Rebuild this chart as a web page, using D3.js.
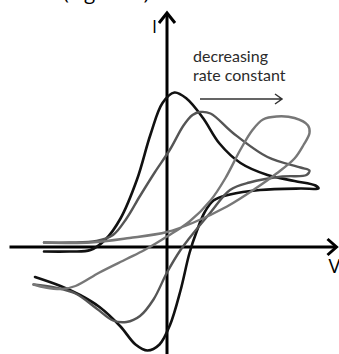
<!DOCTYPE html>
<meta charset="utf-8">
<style>
body { margin: 0; background: #fff; }
svg { display: block; }
.curve { fill: none; stroke-linecap: round; stroke-linejoin: round; }
text { font-family: "Open Sans", sans-serif; }
.note text { font-family: Lato, "Open Sans", sans-serif; }
</style>
<svg width="339" height="354"></svg>
<script src="https://cdn.jsdelivr.net/npm/d3@7"></script>
<script>

// fast electron transfer (black)
var vBlack = [-0.82, -0.65, -0.51, -0.41, -0.31, -0.20, -0.11, -0.03, 0.05, 0.13, 0.24, 0.35, 0.49, 0.67, 0.85, 0.99, 1.01,
              0.89, 0.62, 0.42, 0.31, 0.25, 0.20, 0.15, 0.09, 0.02, -0.05, -0.13, -0.21, -0.31, -0.45, -0.58, -0.71, -0.88];
var iBlack = [-0.03, -0.03, -0.02, 0.05, 0.19, 0.45, 0.75, 0.96, 1.03, 0.99, 0.86, 0.69, 0.56, 0.48, 0.44, 0.41, 0.39,
              0.39, 0.38, 0.35, 0.31, 0.23, 0.11, -0.04, -0.29, -0.52, -0.65, -0.69, -0.65, -0.53, -0.40, -0.32, -0.26, -0.20];

// intermediate (dark gray)
var vMid = [-0.82, -0.65, -0.47, -0.36, -0.27, -0.18, -0.08, 0.02, 0.11, 0.17, 0.22, 0.29, 0.44, 0.67, 0.89, 0.95, 0.93,
            0.77, 0.55, 0.42, 0.29, 0.15, 0.09, 0.00, -0.09, -0.18, -0.27, -0.36, -0.47, -0.61, -0.75, -0.89];
var iMid = [0.03, 0.03, 0.04, 0.08, 0.19, 0.34, 0.50, 0.65, 0.81, 0.88, 0.90, 0.89, 0.76, 0.60, 0.53, 0.51, 0.48,
            0.47, 0.43, 0.38, 0.23, 0.06, -0.02, -0.17, -0.35, -0.46, -0.50, -0.49, -0.41, -0.31, -0.27, -0.25];

// slow electron transfer (light gray)
var vSlow = [-0.82, -0.51, -0.25, 0.00, 0.17, 0.40, 0.59, 0.73, 0.85, 0.91, 0.95, 0.94, 0.85, 0.73, 0.64, 0.57, 0.49,
             0.39, 0.29, 0.15, 0.00, -0.15, -0.27, -0.45, -0.61, -0.70, -0.81, -0.89];
var iSlow = [0.03, 0.03, 0.06, 0.10, 0.16, 0.27, 0.39, 0.49, 0.59, 0.68, 0.76, 0.81, 0.86, 0.87, 0.85, 0.78, 0.65,
             0.46, 0.31, 0.17, 0.07, -0.02, -0.08, -0.17, -0.26, -0.28, -0.27, -0.25];

var series = [
  {name: "fast", v: vBlack, i: iBlack, color: "#111", width: 2.6},
  {name: "mid", v: vMid, i: iMid, color: "#555", width: 2.4},
  {name: "slow", v: vSlow, i: iSlow, color: "#777", width: 2.4}
];

var vExtent = [-1.05, 1.13],
    iExtent = [-0.72, 1.56];

var svg = d3.select("svg");

var x = d3.scaleLinear().domain([-1, 1]).range([17, 317]),
    y = d3.scaleLinear().domain([-1, 1]).range([397, 97]);

// caption, mostly cut off by the top edge
svg.append("text")
    .attr("x", 63)
    .attr("y", -1)
    .attr("font-size", 20)
    .attr("fill", "#000")
    .text("(Figure 3)");

var line = d3.line()
    .x(function(d) { return x(d[0]); })
    .y(function(d) { return y(d[1]); })
    .curve(d3.curveCatmullRom.alpha(0.5));

// axes
var axes = svg.append("g")
    .attr("stroke", "#000")
    .attr("stroke-width", 3)
    .attr("fill", "none")
    .attr("stroke-linecap", "butt");

axes.append("line")
    .attr("x1", x(vExtent[0])).attr("y1", y(0))
    .attr("x2", x(vExtent[1]) - 1).attr("y2", y(0));
axes.append("line")
    .attr("x1", x(0)).attr("y1", y(iExtent[0]))
    .attr("x2", x(0)).attr("y2", y(iExtent[1]) + 1);

axes.append("path")
    .attr("stroke-linejoin", "miter")
    .attr("d", "M" + (x(vExtent[1]) - 9) + "," + (y(0) - 8) + "L" + x(vExtent[1]) + "," + y(0) +
               "L" + (x(vExtent[1]) - 9) + "," + (y(0) + 8));
axes.append("path")
    .attr("stroke-linejoin", "miter")
    .attr("d", "M" + (x(0) - 8) + "," + (y(iExtent[1]) + 10) + "L" + x(0) + "," + y(iExtent[1]) +
               "L" + (x(0) + 8) + "," + (y(iExtent[1]) + 10));

svg.append("text")
    .attr("x", x(0) - 15)
    .attr("y", y(iExtent[1]) + 20)
    .attr("font-size", 18)
    .text("I");

svg.append("text")
    .attr("x", x(vExtent[1]) - 8)
    .attr("y", y(0) + 26)
    .attr("font-size", 20)
    .text("V");

// curves
svg.selectAll(".curve")
    .data(series)
  .enter().append("path")
    .attr("class", "curve")
    .attr("stroke", function(d) { return d.color; })
    .attr("stroke-width", function(d) { return d.width; })
    .attr("d", function(d) { return line(d.v.map(function(v, k) { return [v, d.i[k]]; })); });

// annotation
var note = svg.append("g").attr("class", "note").attr("fill", "#2b2b2b");
note.append("text").attr("x", 193).attr("y", 62).attr("font-size", 16).text("decreasing");
note.append("text").attr("x", 193).attr("y", 81).attr("font-size", 16).text("rate constant");

svg.append("path")
    .attr("fill", "none")
    .attr("stroke", "#333")
    .attr("stroke-width", 1.5)
    .attr("d", "M200,99L282,99M275,94L282,99L275,104");

</script>
